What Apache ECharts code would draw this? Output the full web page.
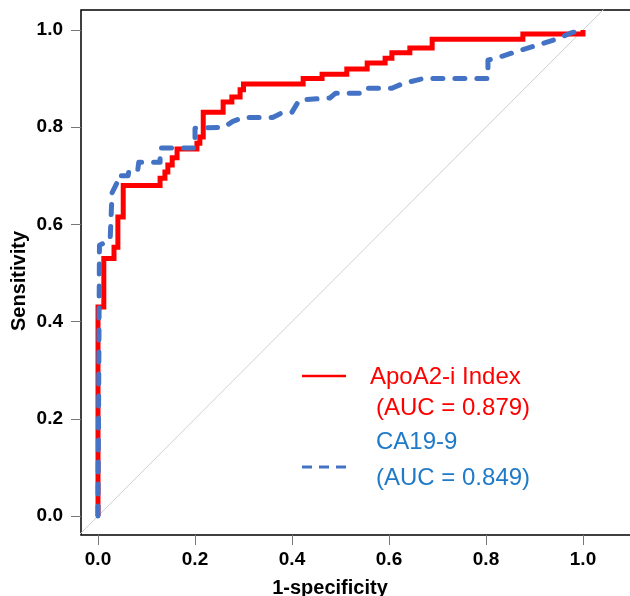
<!DOCTYPE html>
<html>
<head>
<meta charset="utf-8">
<script src="https://cdn.jsdelivr.net/npm/echarts@6/dist/echarts.min.js"></script>
<style>html,body{margin:0;padding:0;background:#fff}#c{width:630px;height:596px}</style>
</head>
<body>
<div id="c"></div>
<script>
// ---- data ----
const tickValues = [0, 0.2, 0.4, 0.6, 0.8, 1.0];
const apoFpr = [0,0,0.012,0.012,0.033,0.033,0.041,0.041,0.052,0.052,0.128,0.128,0.138,0.138,0.144,0.144,0.153,0.153,0.163,0.163,0.204,0.204,0.21,0.21,0.217,0.217,0.258,0.258,0.276,0.276,0.293,0.293,0.3,0.3,0.423,0.423,0.462,0.462,0.513,0.513,0.555,0.555,0.592,0.592,0.606,0.606,0.643,0.643,0.689,0.689,0.876,0.876,1,1];
const apoTpr = [0,0.43,0.43,0.53,0.53,0.553,0.553,0.615,0.615,0.68,0.68,0.695,0.695,0.708,0.708,0.722,0.722,0.737,0.737,0.755,0.755,0.767,0.767,0.78,0.78,0.831,0.831,0.852,0.852,0.862,0.862,0.877,0.877,0.889,0.889,0.9,0.9,0.909,0.909,0.92,0.92,0.932,0.932,0.942,0.942,0.953,0.953,0.963,0.963,0.981,0.981,0.992,0.992,1];
const caFpr = [0,0.003,0.025,0.029,0.039,0.04,0.062,0.064,0.082,0.084,0.128,0.128,0.2,0.2,0.26,0.278,0.3,0.36,0.38,0.4,0.415,0.478,0.49,0.55,0.556,0.606,0.629,0.67,0.804,0.804,0.83,0.87,0.91,0.95,0.975,1];
const caTpr = [0,0.557,0.568,0.665,0.685,0.70,0.70,0.712,0.712,0.728,0.728,0.757,0.757,0.798,0.80,0.812,0.82,0.82,0.83,0.831,0.856,0.86,0.87,0.87,0.88,0.88,0.89,0.9,0.9,0.938,0.945,0.958,0.97,0.983,0.994,1];
const refLine = [-0.1, 1.2];
const labels = ['ApoA2-i Index', '(AUC = 0.879)', 'CA19-9', '(AUC = 0.849)'];
const xTitle = '1-specificity';
const yTitle = 'Sensitivity';

const zip = (a, b) => a.map((v, i) => [v, b[i]]);
const chart = echarts.init(document.getElementById('c'), null, {renderer: 'canvas'});
const font = '"Liberation Sans", Arial, sans-serif';
const axisCommon = {
  type: 'value',
  splitLine: {show: false},
  axisLine: {show: false, onZero: false},
  axisTick: {show: true, inside: false, length: 10, customValues: tickValues, lineStyle: {color: '#777', width: 1}},
  axisLabel: {customValues: tickValues, fontFamily: font, fontWeight: 'bold', fontSize: 19, color: '#000',
    formatter: v => v.toFixed(1)}
};
chart.setOption({
  animation: false,
  grid: {left: 81, top: 10, width: 560, height: 525, show: true, borderColor: '#000', borderWidth: 1.5,
    backgroundColor: 'transparent', outerBoundsMode: 'none', containLabel: false},
  xAxis: Object.assign({}, axisCommon, {min: -17/485, max: 543/485, axisLabel: Object.assign({}, axisCommon.axisLabel, {margin: 15})}),
  yAxis: Object.assign({}, axisCommon, {min: -19/486, max: 506/486, axisLabel: Object.assign({}, axisCommon.axisLabel, {margin: 18})}),
  series: [
    {type: 'line', data: zip(refLine, refLine), showSymbol: false, silent: true, clip: true,
     lineStyle: {color: '#d0d0d0', width: 1}},
    {type: 'line', data: zip(apoFpr, apoTpr), showSymbol: false, clip: true,
     lineStyle: {color: '#ff0000', width: 5, cap: 'butt', join: 'miter'}},
    {type: 'line', data: zip(caFpr, caTpr), showSymbol: false, clip: true,
     lineStyle: {color: '#4472c4', width: 5, type: [10, 12], cap: 'round', join: 'round'}}
  ],
  graphic: [
    {type: 'text', x: 330, y: 588, style: {text: xTitle, font: 'bold 20px ' + font, fill: '#000', textAlign: 'center', textVerticalAlign: 'middle'}},
    {type: 'text', x: 19, y: 281, rotation: Math.PI / 2, style: {text: yTitle, font: 'bold 20px ' + font, fill: '#000', textAlign: 'center', textVerticalAlign: 'middle'}},
    {type: 'line', shape: {x1: 302, y1: 376, x2: 346, y2: 376}, style: {stroke: '#ff0000', lineWidth: 2.5}},
    {type: 'text', x: 370, y: 377, style: {text: labels[0], font: '24px ' + font, fill: '#ff0000', textVerticalAlign: 'middle'}},
    {type: 'text', x: 376, y: 408, style: {text: labels[1], font: '24px ' + font, fill: '#ff0000', textVerticalAlign: 'middle'}},
    {type: 'text', x: 376, y: 442, style: {text: labels[2], font: '24px ' + font, fill: '#1f7ac8', textVerticalAlign: 'middle'}},
    {type: 'text', x: 376, y: 478, style: {text: labels[3], font: '24px ' + font, fill: '#1f7ac8', textVerticalAlign: 'middle'}},
    {type: 'line', shape: {x1: 302, y1: 467, x2: 346, y2: 467}, style: {stroke: '#4472c4', lineWidth: 3, lineDash: [10, 7]}}
  ]
});
</script>
</body>
</html>
